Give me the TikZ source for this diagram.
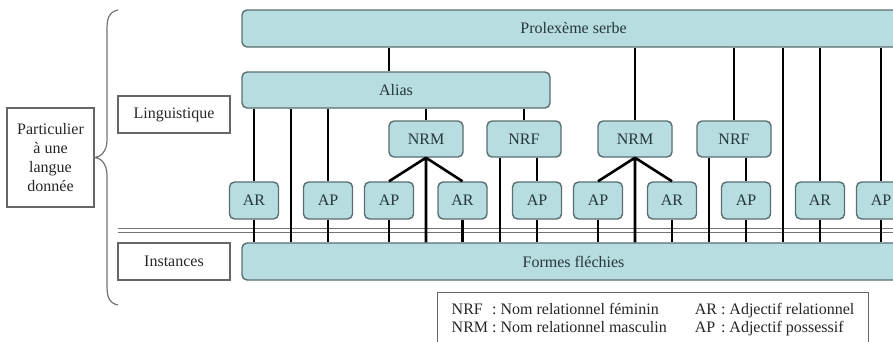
\documentclass[tikz,border=0pt]{standalone}
\usepackage{fontspec}
\setmainfont{Liberation Serif}
\definecolor{boxfill}{RGB}{184,221,225}
\definecolor{boxline}{RGB}{88,110,112}
\definecolor{boxtext}{RGB}{35,55,58}
\begin{document}
\begin{tikzpicture}[x=1pt,y=-1pt,font=\fontsize{16}{18}\selectfont,
  bar/.style={draw=boxline,fill=boxfill,line width=1.4pt,rounded corners=5pt,text=boxtext,inner sep=0pt,minimum height=37pt},
  sbox/.style={bar,minimum width=49pt},
  nbox/.style={bar,minimum width=74pt,minimum height=36pt},
  lbox/.style={draw=black!60,line width=1.2pt,text=black!85,inner sep=0pt},
  link/.style={line width=2.6pt}]
\clip (0,0) rectangle (893,341);
\node[bar,minimum width=663pt] (prol) at (573.5,28.5) {Prolexème serbe};
\node[bar,minimum width=308pt,minimum height=36pt] (alias) at (396,90) {Alias};
\node[bar,minimum width=663pt] (forms) at (573.5,261.5) {Formes fléchies};
\node[nbox] (nrm1) at (426,139) {NRM};
\node[nbox] (nrf1) at (524,139) {NRF};
\node[nbox] (nrm2) at (635,139) {NRM};
\node[nbox] (nrf2) at (734,139) {NRF};
\node[sbox] (ar1) at (254,200.5) {AR};
\node[sbox] (ap2) at (328,200.5) {AP};
\node[sbox] (ap3) at (389,200.5) {AP};
\node[sbox] (ar4) at (462.5,200.5) {AR};
\node[sbox] (ap5) at (537,200.5) {AP};
\node[sbox] (ap6) at (598,200.5) {AP};
\node[sbox] (ar7) at (672,200.5) {AR};
\node[sbox] (ap8) at (746,200.5) {AP};
\node[sbox] (ar9) at (820,200.5) {AR};
\node[sbox] (ap10) at (881,200.5) {AP};
\node[lbox,minimum width=112pt,minimum height=37pt] (ling) at (174,114.5) {Linguistique};
\node[lbox,minimum width=112pt,minimum height=37pt] (inst) at (174,261.5) {Instances};
\node[lbox,minimum width=87pt,minimum height=99pt,align=center,font=\fontsize{16}{19}\selectfont] (part) at (50.5,157.5) {Particulier\\à une\\langue\\donnée};
\node[lbox,anchor=north,inner xsep=14pt,inner ysep=9pt] (legend) at (653,292) {\begin{tabular}{@{}l@{\ :\ }l@{\hspace{28pt}}l@{\ :\ }l@{}}
NRF & Nom relationnel féminin & AR & Adjectif relationnel\\
NRM & Nom relationnel masculin & AP & Adjectif possessif\\[20pt]
\end{tabular}};
\draw[black!55,line width=1.2pt] (118,10) .. controls (108,12) and (107,20) .. (107,30) -- (107,140) .. controls (107,152) and (100,157) .. (95,157.5) .. controls (100,158) and (107,163) .. (107,175) -- (107,285) .. controls (107,295) and (108,303) .. (118,305);
\draw[black!55,line width=0.9pt] (118,228) -- (893,228) (118,232) -- (893,232);
\coordinate (v1) at (291,0);
\coordinate (v2) at (500,0);
\coordinate (v3) at (709,0);
\coordinate (v4) at (783,0);
\draw[link] (prol.south -| ap3) -- (alias.north -| ap3);
\draw[link] (alias.south -| ar1) -- (ar1.north) (ar1.south) -- (forms.north -| ar1);
\draw[link] (alias.south -| v1) -- (forms.north -| v1);
\draw[link] (alias.south -| ap2) -- (ap2.north) (ap2.south) -- (forms.north -| ap2);
\draw[link] (alias.south -| nrm1) -- (nrm1.north);
\draw[link] (nrm1.south) -- (ap3.north) (nrm1.south) -- (ar4.north) (nrm1.south) -- (forms.north -| nrm1);
\draw[link] (ap3.south) -- (forms.north -| ap3) (ar4.south) -- (forms.north -| ar4);
\draw[link] (alias.south -| nrf1) -- (nrf1.north);
\draw[link] (nrf1.south -| v2) -- (forms.north -| v2) (nrf1.south -| ap5) -- (ap5.north) (ap5.south) -- (forms.north -| ap5);
\draw[link] (prol.south -| nrm2) -- (nrm2.north);
\draw[link] (nrm2.south) -- (ap6.north) (nrm2.south) -- (ar7.north) (nrm2.south) -- (forms.north -| nrm2);
\draw[link] (ap6.south) -- (forms.north -| ap6) (ar7.south) -- (forms.north -| ar7);
\draw[link] (prol.south -| nrf2) -- (nrf2.north);
\draw[link] (nrf2.south -| v3) -- (forms.north -| v3) (nrf2.south -| ap8) -- (ap8.north) (ap8.south) -- (forms.north -| ap8);
\draw[link] (prol.south -| v4) -- (forms.north -| v4);
\draw[link] (prol.south -| ar9) -- (ar9.north) (ar9.south) -- (forms.north -| ar9);
\draw[link] (prol.south -| ap10) -- (ap10.north) (ap10.south) -- (forms.north -| ap10);
\end{tikzpicture}
\end{document}
